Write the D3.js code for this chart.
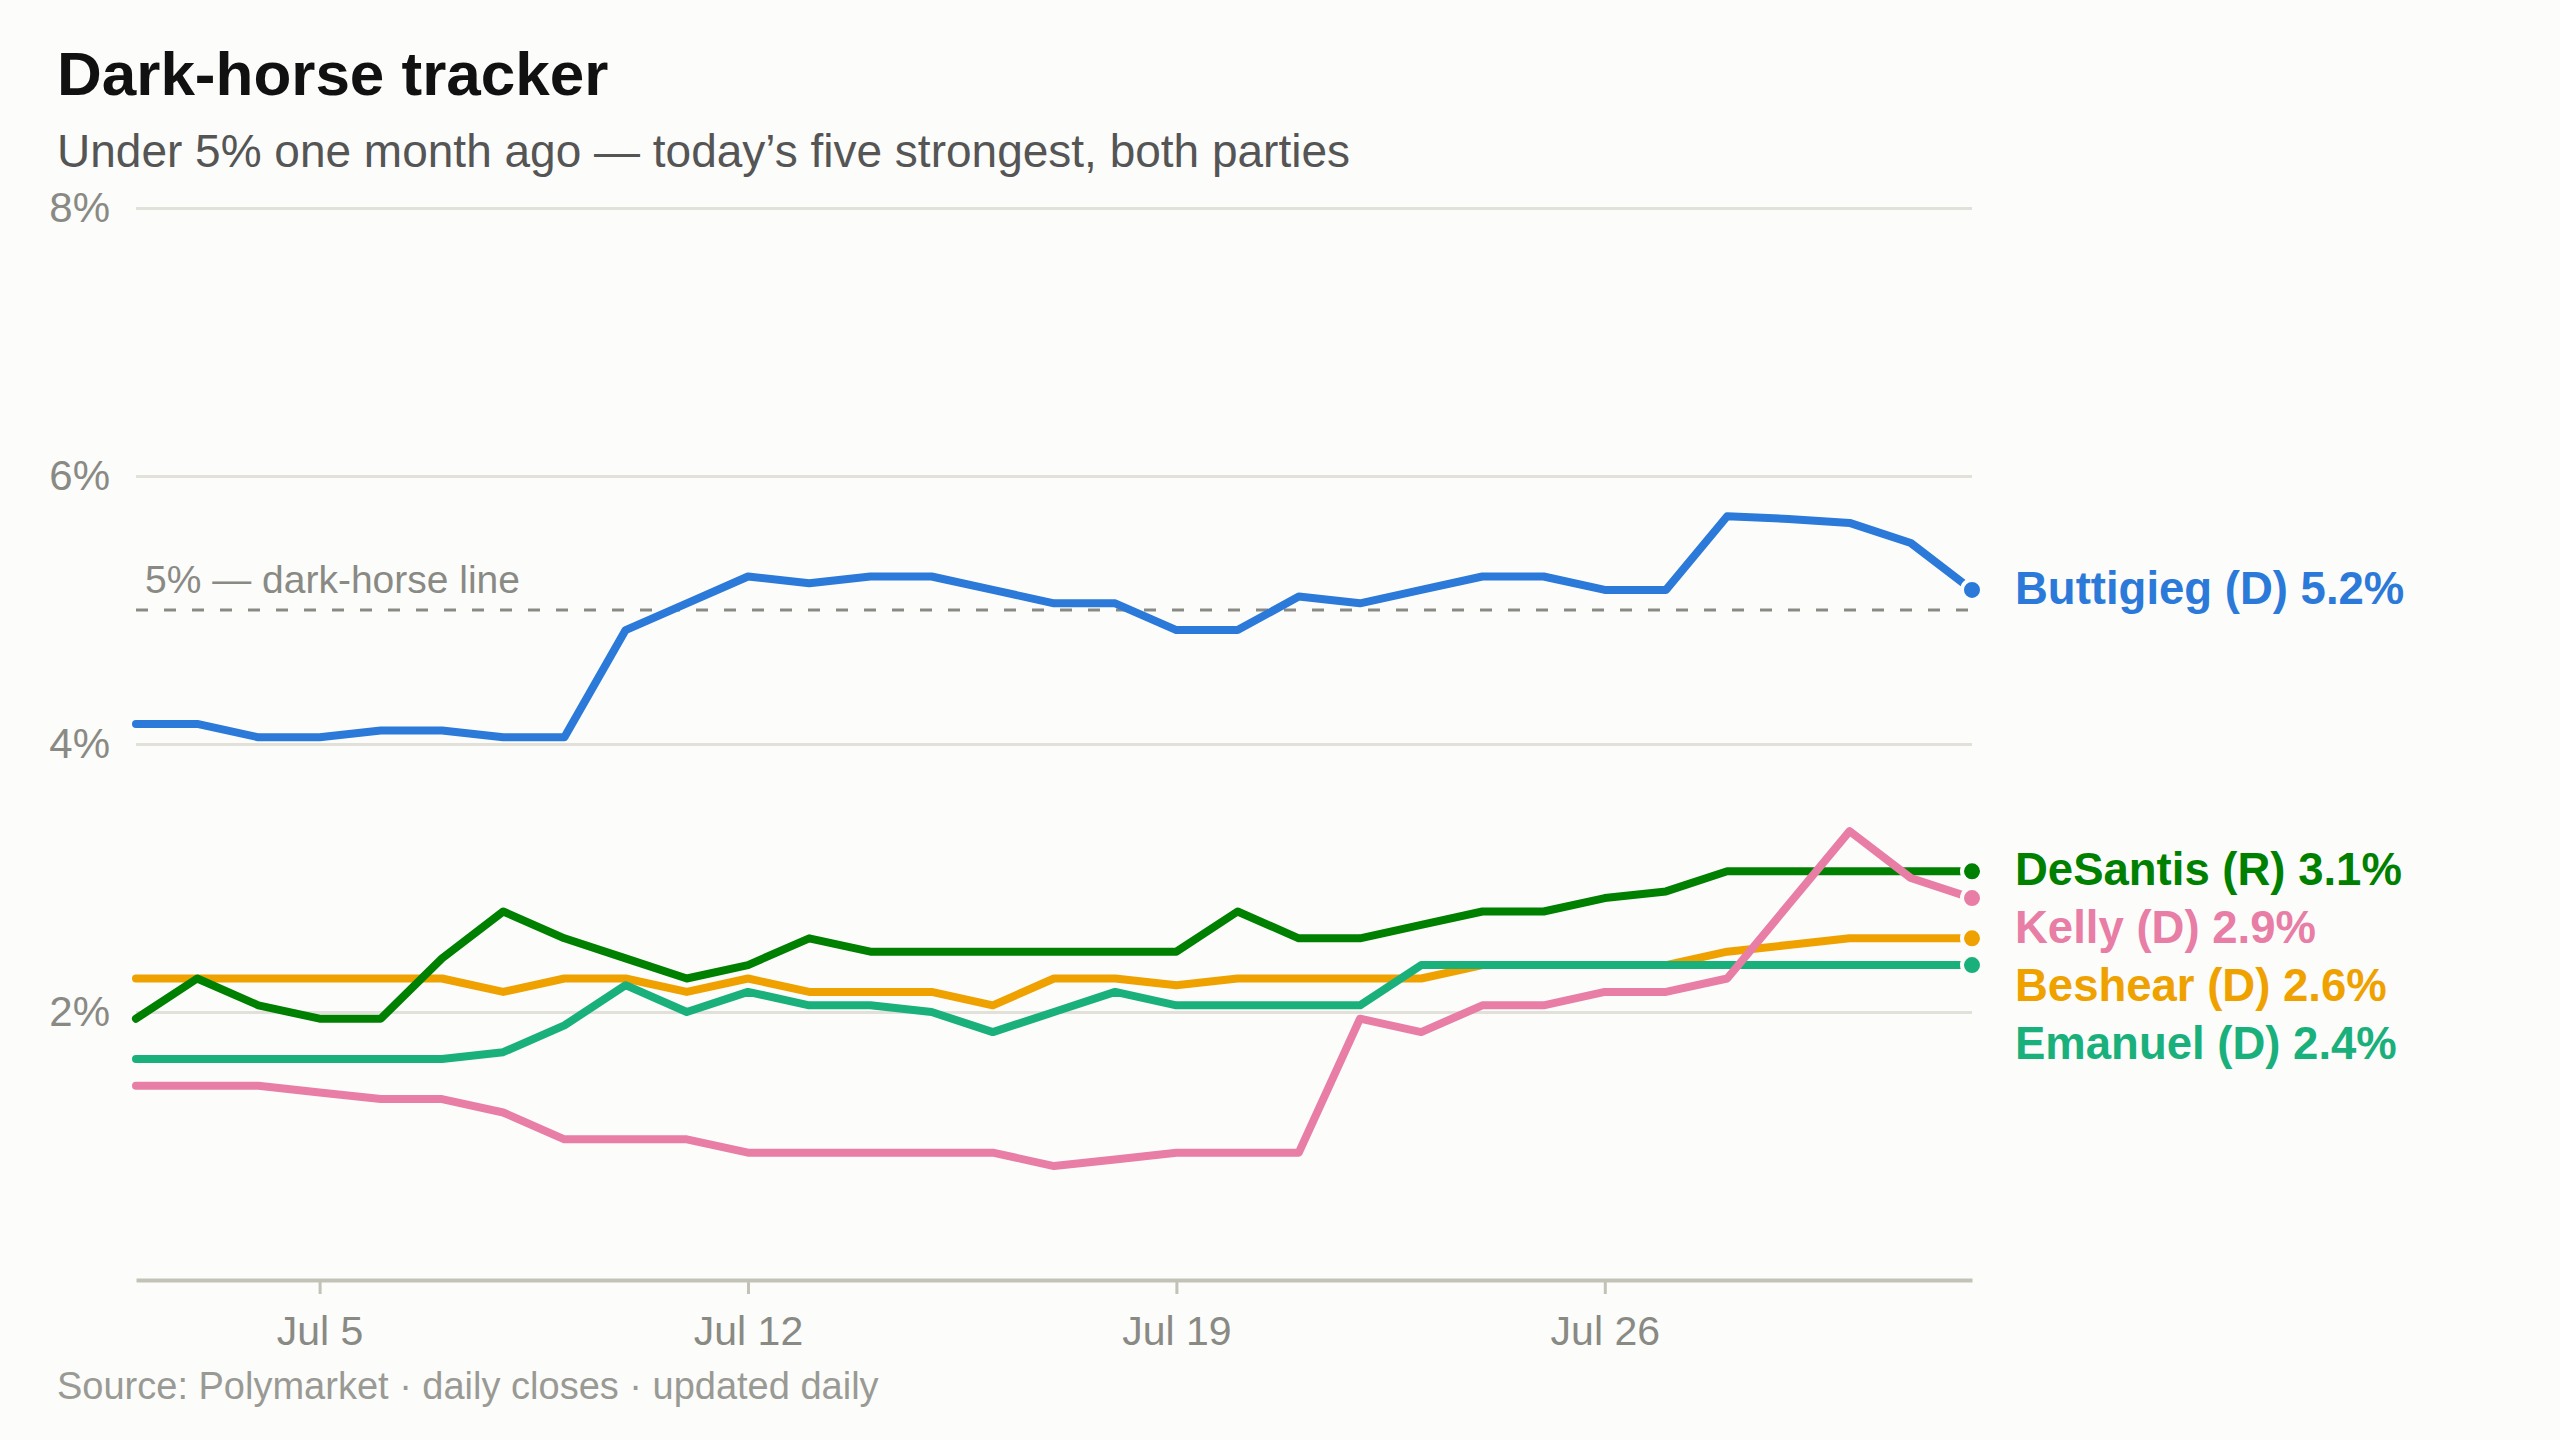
<!DOCTYPE html>
<html>
<head>
<meta charset="utf-8">
<script src="https://cdn.jsdelivr.net/npm/d3@7"></script>
<style>
  html, body { margin: 0; padding: 0; background: #fcfcfa; }
  svg { display: block; font-family: "Liberation Sans", Arial, sans-serif; }
</style>
</head>
<body>
<div id="chart"></div>
<script>
// daily closes, Jul 2 -> Aug 1
var startDay = new Date(2024, 6, 2);
var endDay = new Date(2024, 7, 1);
var tickDays = [new Date(2024, 6, 5), new Date(2024, 6, 12), new Date(2024, 6, 19), new Date(2024, 6, 26)];
var yTicks = [2, 4, 6, 8];

var candidates = ["Buttigieg (D)", "DeSantis (R)", "Kelly (D)", "Beshear (D)", "Emanuel (D)"];
var colores = ["#2b79d8", "#008000", "#e87da6", "#efa100", "#1ab07c"];
var ultimos = [5.2, 3.1, 2.9, 2.6, 2.4];

var buttigieg = [4.15, 4.15, 4.05, 4.05, 4.10, 4.10, 4.05, 4.05, 4.85, 5.05, 5.25, 5.20, 5.25, 5.25, 5.15, 5.05,
    5.05, 4.85, 4.85, 5.10, 5.05, 5.15, 5.25, 5.25, 5.15, 5.15, 5.70, 5.68, 5.65, 5.50, 5.15];
var desantis = [1.95, 2.25, 2.05, 1.95, 1.95, 2.40, 2.75, 2.55, 2.40, 2.25, 2.35, 2.55, 2.45, 2.45, 2.45, 2.45,
    2.45, 2.45, 2.75, 2.55, 2.55, 2.65, 2.75, 2.75, 2.85, 2.90, 3.05, 3.05, 3.05, 3.05, 3.05];
var kelly = [1.45, 1.45, 1.45, 1.40, 1.35, 1.35, 1.25, 1.05, 1.05, 1.05, 0.95, 0.95, 0.95, 0.95, 0.95, 0.85,
    0.90, 0.95, 0.95, 0.95, 1.95, 1.85, 2.05, 2.05, 2.15, 2.15, 2.25, 2.80, 3.35, 3.00, 2.85];
var beshear = [2.25, 2.25, 2.25, 2.25, 2.25, 2.25, 2.15, 2.25, 2.25, 2.15, 2.25, 2.15, 2.15, 2.15, 2.05, 2.25,
    2.25, 2.20, 2.25, 2.25, 2.25, 2.25, 2.35, 2.35, 2.35, 2.35, 2.45, 2.50, 2.55, 2.55, 2.55];
var emanuel = [1.65, 1.65, 1.65, 1.65, 1.65, 1.65, 1.70, 1.90, 2.20, 2.00, 2.15, 2.05, 2.05, 2.00, 1.85, 2.00,
    2.15, 2.05, 2.05, 2.05, 2.05, 2.35, 2.35, 2.35, 2.35, 2.35, 2.35, 2.35, 2.35, 2.35, 2.35];

var umbral = 5;

var W = 2560, H = 1440;
var mLeft = 136, mRight = 1972, mTop = 208, mBottom = 1280;

var dias = d3.timeDay.range(startDay, d3.timeDay.offset(endDay, 1));
var valores = [buttigieg, desantis, kelly, beshear, emanuel];
var series = candidates.map(function (c, i) {
    return { nombre: c, color: colores[i], ultimo: ultimos[i],
             puntos: valores[i].map(function (v, j) { return { d: dias[j], v: v }; }) };
});

var x = d3.scaleTime().domain([startDay, endDay]).range([mLeft, mRight]);
var y = d3.scaleLinear().domain([0, 8]).range([mBottom, mTop]);

var svg = d3.select("#chart").append("svg").attr("width", W).attr("height", H);

// titulos
svg.append("text").attr("x", 57).attr("y", 95)
    .style("font-size", "62px").style("font-weight", "bold").style("fill", "#111")
    .text("Dark-horse tracker");
svg.append("text").attr("x", 57).attr("y", 167)
    .style("font-size", "46px").style("fill", "#555")
    .text("Under 5% one month ago \u2014 today\u2019s five strongest, both parties");

// rejilla
var gy = svg.append("g").attr("transform", "translate(" + mLeft + ",0)")
    .call(d3.axisLeft(y).tickValues(yTicks).tickSize(-(mRight - mLeft)).tickFormat(function (d) { return d + "%"; }));
gy.select(".domain").remove();
gy.selectAll(".tick line").attr("stroke", "#e1e0d9").attr("stroke-width", 3);
gy.selectAll(".tick text").attr("x", -26).style("font-size", "42px").style("fill", "#8a8a85")
    .style("font-family", "Liberation Sans, Arial, sans-serif");

// eje x
var gx = svg.append("g").attr("transform", "translate(0," + mBottom + ")")
    .call(d3.axisBottom(x).tickValues(tickDays).tickSizeInner(14).tickSizeOuter(0).tickPadding(22)
        .tickFormat(d3.timeFormat("%b %-d")));
gx.select(".domain").attr("stroke", "#c3c2b6").attr("stroke-width", 4);
gx.selectAll(".tick line").attr("stroke", "#c3c2b6").attr("stroke-width", 3);
gx.selectAll(".tick text").style("font-size", "41px").style("fill", "#8a8a85")
    .style("font-family", "Liberation Sans, Arial, sans-serif");

// linea de 5%
svg.append("line").attr("x1", mLeft).attr("x2", mRight).attr("y1", y(umbral)).attr("y2", y(umbral))
    .attr("stroke", "#8a8a85").attr("stroke-width", 3).attr("stroke-dasharray", "12 16");
svg.append("text").attr("x", mLeft + 9).attr("y", y(umbral) - 17)
    .style("font-size", "39px").style("fill", "#8a8a85")
    .text("5% \u2014 dark-horse line");

// lineas (orden de dibujo)
var orden = [3, 4, 1, 2, 0];
var linea = d3.line().x(function (d) { return x(d.d); }).y(function (d) { return y(d.v); });
svg.append("g").selectAll("path").data(orden.map(function (i) { return series[i]; })).enter()
    .append("path")
    .attr("d", function (s) { return linea(s.puntos); })
    .attr("fill", "none").attr("stroke", function (s) { return s.color; })
    .attr("stroke-width", 8).attr("stroke-linejoin", "round").attr("stroke-linecap", "round");

// puntos finales
svg.append("g").selectAll("circle").data(series).enter().append("circle")
    .attr("cx", function (s) { return x(s.puntos[s.puntos.length - 1].d); })
    .attr("cy", function (s) { return y(s.puntos[s.puntos.length - 1].v); })
    .attr("r", 10).attr("fill", function (s) { return s.color; })
    .attr("stroke", "#fcfcfa").attr("stroke-width", 4);

// etiquetas con separacion minima
var gap = 58;
var etiquetas = series.map(function (s) {
    return { s: s, y: y(s.puntos[s.puntos.length - 1].v) };
}).sort(function (a, b) { return a.y - b.y; });
for (var i = 1; i < etiquetas.length; i++) {
    if (etiquetas[i].y < etiquetas[i - 1].y + gap) {
        etiquetas[i].y = etiquetas[i - 1].y + gap;
    }
}
svg.append("g").selectAll("text").data(etiquetas).enter().append("text")
    .attr("x", mRight + 43).attr("y", function (d) { return d.y; }).attr("dy", "0.3em")
    .style("font-size", "45.5px").style("font-weight", "bold")
    .style("fill", function (d) { return d.s.color; })
    .text(function (d) { return d.s.nombre + " " + d.s.ultimo.toFixed(1) + "%"; });

// fuente
svg.append("text").attr("x", 57).attr("y", 1399)
    .style("font-size", "38px").style("fill", "#9a9a95")
    .text("Source: Polymarket \u00b7 daily closes \u00b7 updated daily");
</script>
</body>
</html>
